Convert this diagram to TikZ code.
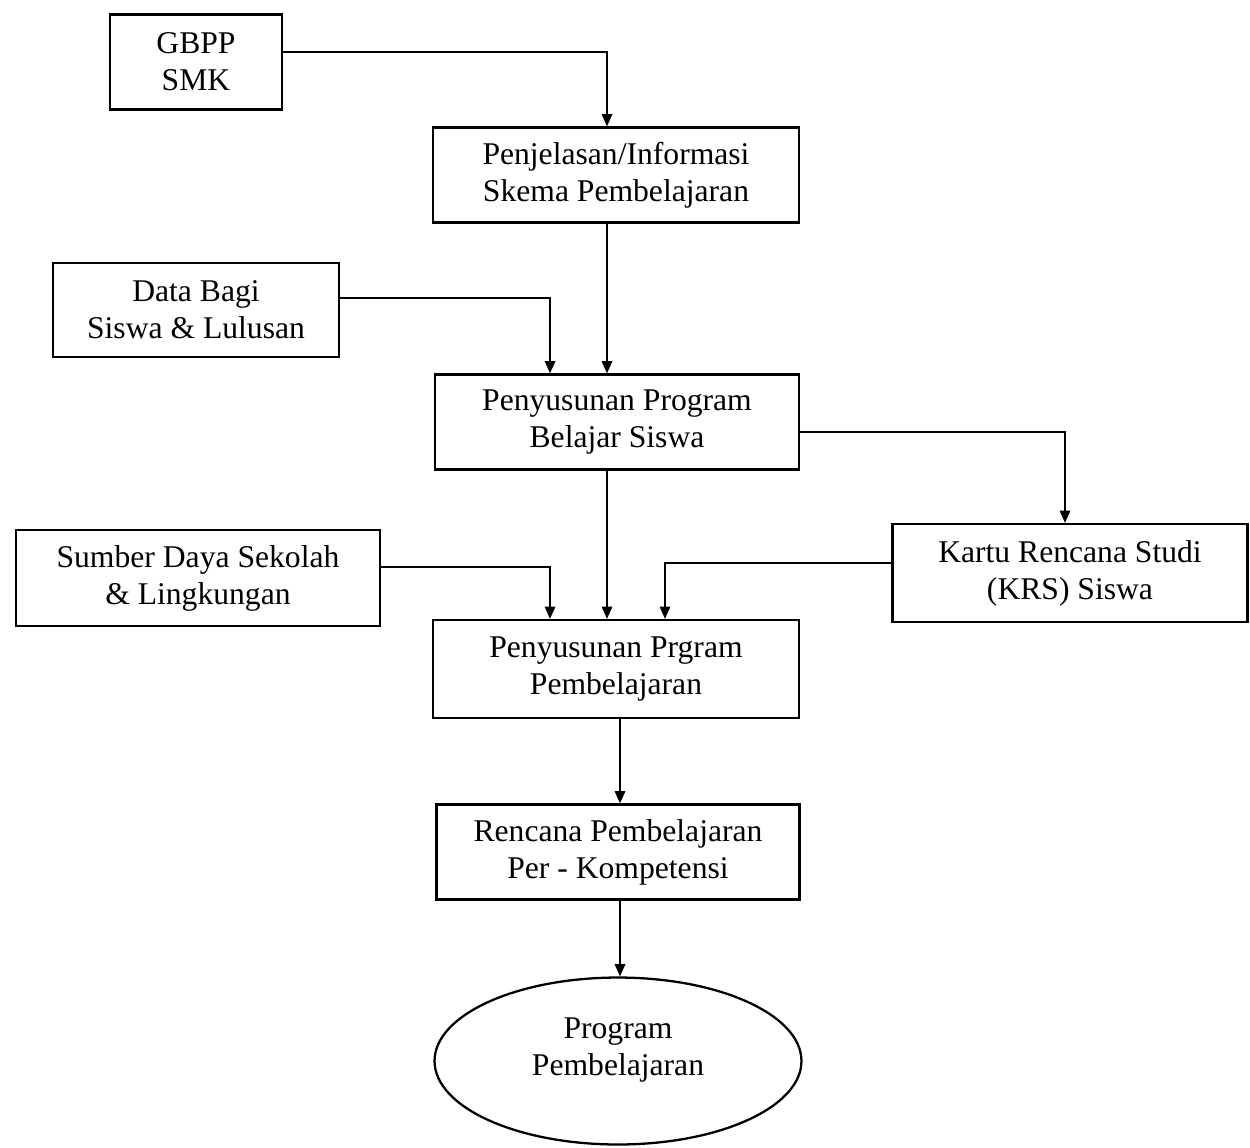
\documentclass[tikz,border=0pt]{standalone}
\usepackage{fontspec}
\setmainfont{Liberation Serif}
\usetikzlibrary{arrows.meta,calc,shapes.geometric}
\begin{document}
\begin{tikzpicture}[x=0.02cm,y=-0.02cm,
  box/.style={draw, line width=1.3pt, align=center, inner sep=0pt,
    font=\fontsize{18}{21}\selectfont},
  oval/.style={ellipse, draw, line width=1.3pt, inner sep=0pt},
  txt/.style={align=center, inner sep=0pt, font=\fontsize{18}{21}\selectfont},
  arr/.style={line width=0.9pt, -{Triangle[length=7pt,width=6pt]}}]
\useasboundingbox (0,0) rectangle (1250,1147);
\node[box, minimum width=3.44cm, minimum height=1.9cm] (gbpp) at (196,62) {GBPP\\SMK};
\node[box, minimum width=7.32cm, minimum height=1.9cm] (pen) at (616,175) {Penjelasan/Informasi\\Skema Pembelajaran};
\node[box, minimum width=5.72cm, minimum height=1.88cm] (data) at (196,310) {Data Bagi\\Siswa \& Lulusan};
\node[box, minimum width=7.28cm, minimum height=1.9cm] (bel) at (617,422) {Penyusunan Program\\Belajar Siswa};
\node[box, minimum width=7.28cm, minimum height=1.92cm] (sum) at (198,578) {Sumber Daya Sekolah\\\& Lingkungan};
\node[box, minimum width=7.1cm, minimum height=1.96cm] (krs) at (1070,573) {Kartu Rencana Studi\\(KRS) Siswa};
\node[box, minimum width=7.32cm, minimum height=1.96cm] (pem) at (616,669) {Penyusunan Prgram\\Pembelajaran};
\node[box, minimum width=7.26cm, minimum height=1.9cm] (ren) at (618,852) {Rencana Pembelajaran\\Per - Kompetensi};
\node[oval, minimum width=7.34cm, minimum height=3.34cm] (ell) at (618,1061) {};
\node[txt] (ellt) at (618,1050) {Program\\Pembelajaran};

\draw[arr] ($(gbpp.east)+(0,-10)$) -| ([xshift=-0.18cm]pen.north);
\draw[arr] ([xshift=-0.18cm]pen.south) -- ([xshift=-0.18cm]pen.south |- bel.north);
\draw[arr] ($(data.east)+(0,-12)$) -| ([xshift=-1.34cm]bel.north);
\draw[arr] ($(bel.east)+(0,10)$) -| ([xshift=-0.1cm]krs.north);
\draw[arr] ([xshift=-0.2cm]bel.south) -- ([xshift=-0.2cm]bel.south |- pem.north);
\draw[arr] ($(sum.east)+(0,-11)$) -| ([xshift=-1.32cm]pem.north);
\draw[arr] ($(krs.west)+(0,-10)$) -| ([xshift=0.98cm]pem.north);
\draw[arr] ([xshift=0.08cm]pem.south) -- ([xshift=0.08cm]pem.south |- ren.north);
\draw[arr] ([xshift=0.04cm]ren.south) -- ([xshift=0.04cm]ren.south |- ell.north);
\end{tikzpicture}
\end{document}
